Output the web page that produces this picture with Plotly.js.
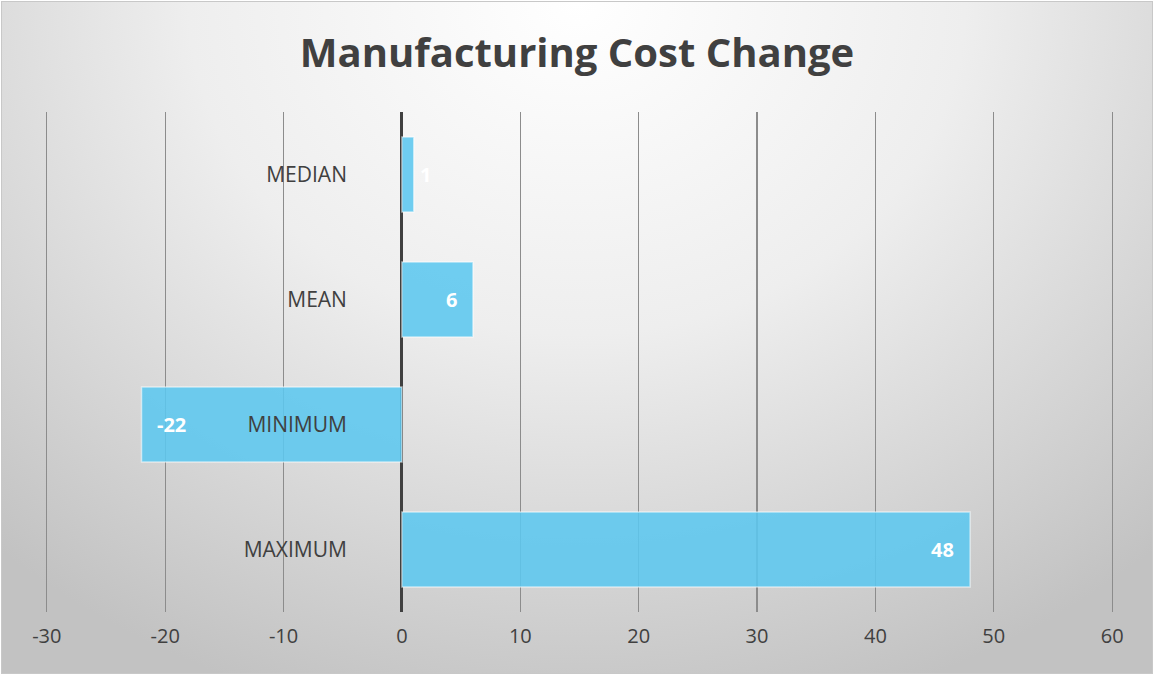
<!DOCTYPE html>
<html>
<head>
<meta charset="utf-8">
<script src="https://cdn.plot.ly/plotly-3.0.1.min.js"></script>
<style>
  html, body { margin: 0; padding: 0; background: #ffffff; }
  #frame {
    position: absolute; left: 1px; top: 1px; width: 1150px; height: 671px;
    border: 1px solid #c8c8c8;
    background: radial-gradient(ellipse 75% 110% at 50% 0%, #ffffff 0%, #eeeeee 45%, #d2d2d2 80%, #c2c2c2 100%);
  }
  #chart { width: 1150px; height: 671px; }
</style>
</head>
<body>
<div id="frame"><div id="chart"></div></div>
<script>
const categories = ['MEDIAN', 'MEAN', 'MINIMUM', 'MAXIMUM'];
const values = [1, 6, -22, 48];
const xTicks = [-30, -20, -10, 0, 10, 20, 30, 40, 50, 60];

const textColor = '#404040';
const fontFam = '"Open Sans", "DejaVu Sans", sans-serif';

const trace = {
  type: 'bar',
  orientation: 'h',
  y: categories,
  x: values,
  width: 0.6,
  marker: {
    color: 'rgba(92,199,239,0.88)',
    line: { color: 'rgba(255,255,255,0.55)', width: 1.5 }
  },
  hoverinfo: 'x+y'
};

const annotations = values.map((v, i) => {
  const small = Math.abs(v) < 3;
  let xanchor, xshift;
  if (v >= 0) {
    xanchor = small ? 'left' : 'right';
    xshift = small ? 4 : -14;
  } else {
    xanchor = small ? 'right' : 'left';
    xshift = small ? -4 : 13;
  }
  return {
    x: v, y: categories[i], xref: 'x', yref: 'y',
    text: String(v), showarrow: false,
    xanchor: xanchor, yanchor: 'middle', xshift: xshift,
    font: { family: fontFam, size: 20, color: '#ffffff', weight: 'bold' }
  };
});

const xMin = -31, xMax = 61;

const layout = {
  width: 1150, height: 671,
  margin: { l: 33, r: 28, t: 110, b: 61, pad: 0 },
  paper_bgcolor: 'rgba(0,0,0,0)',
  plot_bgcolor: 'rgba(0,0,0,0)',
  showlegend: false,
  title: {
    text: '<b>Manufacturing Cost Change</b>',
    font: { family: fontFam, size: 40, color: textColor },
    x: 0.5, xanchor: 'center',
    yref: 'container', y: 1 - 51 / 671, yanchor: 'middle'
  },
  xaxis: {
    range: [xMin, xMax],
    tickvals: xTicks,
    ticktext: xTicks.map(String),
    showgrid: true, gridcolor: '#8c8c8c', gridwidth: 1.2,
    zeroline: true, zerolinecolor: '#404040', zerolinewidth: 3,
    showline: false, ticks: '',
    tickfont: { family: fontFam, size: 20, color: textColor },
    ticklabelstandoff: 10,
    fixedrange: true
  },
  yaxis: {
    type: 'category',
    categoryorder: 'array', categoryarray: categories,
    autorange: 'reversed',
    anchor: 'free', position: (0 - xMin) / (xMax - xMin),
    showgrid: false, zeroline: false, showline: false, ticks: '',
    tickfont: { family: fontFam, size: 21, color: textColor },
    ticklabelstandoff: 55,
    fixedrange: true
  },
  annotations: annotations,
  bargap: 0.4
};

Plotly.newPlot('chart', [trace], layout, { displayModeBar: false, staticPlot: true });
</script>
</body>
</html>
